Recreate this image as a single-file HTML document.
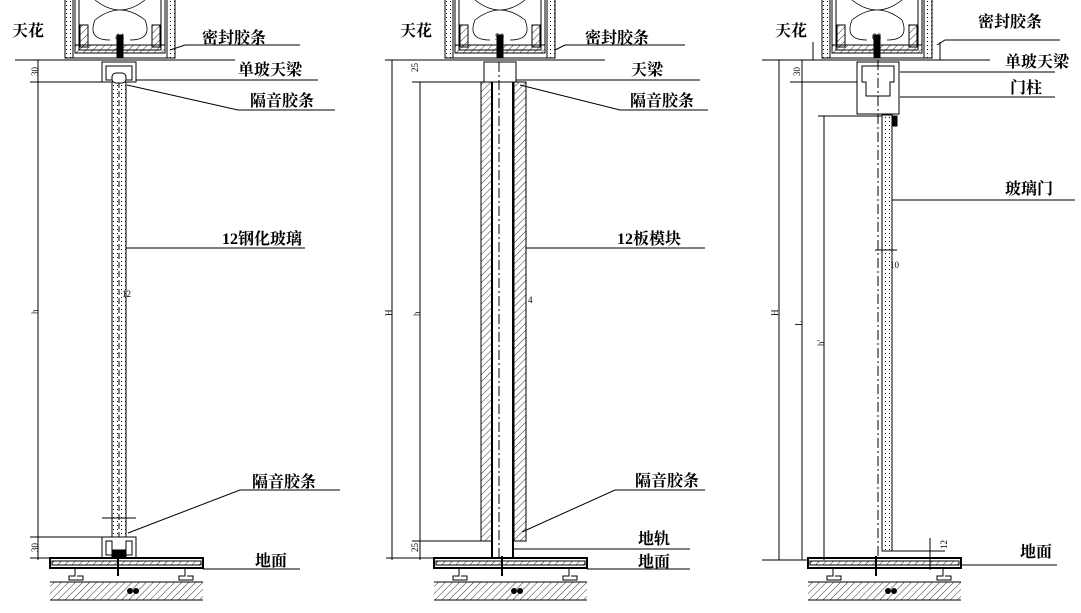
<!DOCTYPE html>
<html><head><meta charset="utf-8"><style>
html,body{margin:0;padding:0;background:#fff;}
svg{display:block;}
text{font-family:"Liberation Serif","Noto Serif CJK SC","Noto Sans CJK SC",serif;fill:#000;}
.l{font-size:16px;font-weight:bold;}
.s{font-size:9px;}
</style></head><body>
<svg width="1081" height="613" viewBox="0 0 1081 613" xmlns="http://www.w3.org/2000/svg">
<defs>
<pattern id="h" width="5" height="5" patternUnits="userSpaceOnUse" patternTransform="rotate(45)"><line x1="0" y1="0" x2="0" y2="5" stroke="#000" stroke-width="0.8"/></pattern>
<pattern id="d" width="4" height="4" patternUnits="userSpaceOnUse"><rect x="1" y="1" width="1" height="1" fill="#000"/></pattern>
<g id="wall">
 <rect x="0" y="-2" width="110" height="60" fill="#fff" stroke="#000"/>
 <rect x="0" y="-2" width="8" height="60" fill="url(#d)" stroke="#000"/>
 <rect x="102" y="-2" width="8" height="60" fill="url(#d)" stroke="#000"/>
 <rect x="10" y="-2" width="90" height="55" fill="none" stroke="#000"/>
 <rect x="14" y="-2" width="82" height="52" fill="none" stroke="#000"/>
 <rect x="15" y="25" width="8" height="22" fill="url(#h)" stroke="#000"/>
 <rect x="87" y="25" width="8" height="22" fill="url(#h)" stroke="#000"/>
 <rect x="10" y="45" width="90" height="8" fill="url(#h)" stroke="#000"/>
 <path d="M30 0 Q55 20 80 0 M30 20 Q55 0 80 20 M30 20 Q22 40 45 40 M80 20 Q88 40 65 40" fill="none" stroke="#000" stroke-width="0.8"/>
 <rect x="52" y="35" width="6" height="22" fill="#000"/>
</g>
<g id="floor">
 <rect x="0" y="0" width="153" height="10" fill="#fff" stroke="#000" stroke-width="2"/>
 <rect x="2" y="3" width="149" height="4" fill="url(#h)"/>
 <path d="M25 10 v8 h-6 v4 h14 v-4 h-6 M135 10 v8 h-6 v4 h14 v-4 h-6" fill="#fff" stroke="#000"/>
 <rect x="0" y="24" width="153" height="18" fill="url(#h)" stroke="none"/>
 <line x1="0" y1="24" x2="153" y2="24" stroke="#000"/><line x1="0" y1="42" x2="153" y2="42" stroke="#000"/>
 <circle cx="80" cy="33" r="2.5" fill="#000"/><circle cx="86" cy="33" r="2.5" fill="#000"/>
 <path d="M68 -2 v20" stroke="#000" stroke-width="2"/>
</g>
</defs>
<g stroke="#000" stroke-width="1" fill="none">
<!-- ===== Panel 1 ===== -->
<use href="#wall" x="65" y="0"/>
<line x1="15" y1="60" x2="235" y2="60"/>
<text class="l" x="12" y="36" stroke="none">天花</text>
<rect x="102" y="62" width="34" height="20" fill="#fff"/>
<rect x="106" y="66" width="26" height="14"/>
<rect x="112" y="82" width="14" height="456" fill="url(#d)"/>
<line x1="119" y1="82" x2="119" y2="538" stroke-dasharray="6,3"/>
<rect x="112" y="73" width="14" height="10" rx="4" fill="#fff"/>
<rect x="102" y="537" width="34" height="21" fill="#fff"/>
<rect x="106" y="541" width="6" height="14"/><rect x="126" y="541" width="6" height="14"/>
<rect x="112" y="550" width="14" height="8" fill="#000"/>
<use href="#floor" x="50" y="558"/>
<line x1="203" y1="569" x2="300" y2="569"/>
<line x1="38" y1="60" x2="38" y2="560"/>
<line x1="30" y1="82" x2="112" y2="82"/><line x1="30" y1="537" x2="102" y2="537"/>
<line x1="30" y1="60" x2="46" y2="60"/><line x1="30" y1="558" x2="50" y2="558"/>
<polyline points="170,50 185,45 300,45"/>
<line x1="136" y1="80" x2="318" y2="80"/>
<polyline points="127,85 238,110 335,110"/>
<line x1="126" y1="248" x2="305" y2="248"/>
<polyline points="128,533 240,490 340,490"/>
<line x1="102" y1="518" x2="136" y2="518"/>
<!-- ===== Panel 2 ===== -->
<use href="#wall" x="445" y="0"/>
<line x1="385" y1="60" x2="605" y2="60"/>
<text class="l" x="400" y="36" stroke="none">天花</text>
<rect x="484" y="62" width="32" height="20" fill="#fff"/>
<rect x="481" y="82" width="11" height="459" fill="url(#h)"/>
<rect x="514" y="82" width="12" height="459" fill="url(#h)"/>
<line x1="499" y1="62" x2="499" y2="560" stroke-dasharray="10,3,2,3"/>
<line x1="492" y1="82" x2="492" y2="558" stroke-width="2"/>
<line x1="513" y1="82" x2="513" y2="558" stroke-width="2"/>
<use href="#floor" x="434" y="558"/>
<line x1="392" y1="60" x2="392" y2="560"/>
<line x1="420" y1="82" x2="420" y2="560"/>
<line x1="386" y1="558" x2="434" y2="558"/>
<line x1="412" y1="82" x2="481" y2="82"/><line x1="412" y1="541" x2="481" y2="541"/>
<polyline points="555,50 565,45 685,45"/>
<line x1="516" y1="80" x2="700" y2="80"/>
<polyline points="520,85 620,110 708,110"/>
<line x1="526" y1="248" x2="705" y2="248"/>
<polyline points="522,532 615,490 705,490"/>
<line x1="514" y1="549" x2="690" y2="549"/>
<line x1="587" y1="569" x2="690" y2="569"/>
<!-- ===== Panel 3 ===== -->
<use href="#wall" x="822" y="0"/>
<line x1="762" y1="60" x2="990" y2="60"/>
<line x1="813" y1="42" x2="813" y2="60"/><line x1="940" y1="42" x2="940" y2="60"/>
<text class="l" x="775" y="36" stroke="none">天花</text>
<rect x="857" y="62" width="42" height="52" fill="#fff"/>
<path d="M862 66 h32 v16 h-4 v14 h-24 v-14 h-4z"/>
<rect x="882" y="115" width="10" height="436" fill="url(#d)"/>
<line x1="878" y1="60" x2="878" y2="558" stroke-dasharray="10,3,2,3"/>
<rect x="893" y="116" width="4" height="10" fill="#000"/>
<line x1="892" y1="551" x2="945" y2="551"/>
<use href="#floor" x="808" y="558"/>
<line x1="961" y1="565" x2="1057" y2="565"/>
<line x1="779" y1="60" x2="779" y2="560"/>
<line x1="802" y1="60" x2="802" y2="560"/>
<line x1="824" y1="116" x2="824" y2="560"/>
<line x1="790" y1="82" x2="857" y2="82"/>
<line x1="818" y1="116" x2="882" y2="116"/>
<line x1="762" y1="560" x2="808" y2="560"/>
<line x1="930" y1="538" x2="930" y2="570"/>
<polyline points="937,45 945,40 1060,40"/>
<line x1="900" y1="72" x2="1055" y2="72"/>
<line x1="900" y1="97" x2="1055" y2="97"/>
<line x1="892" y1="200" x2="1075" y2="200"/>
<line x1="875" y1="250" x2="897" y2="250"/>
</g>
<g stroke="none">
<text class="l" x="202" y="43">密封胶条</text>
<text class="l" x="238" y="75">单玻天梁</text>
<text class="l" x="250" y="106">隔音胶条</text>
<text class="l" x="222" y="244">12钢化玻璃</text>
<text class="l" x="252" y="487">隔音胶条</text>
<text class="l" x="255" y="566">地面</text>
<text class="s" x="30" y="76" transform="rotate(-90 34 72)">30</text>
<text class="s" x="30" y="552" transform="rotate(-90 34 548)">30</text>
<text class="s" x="30" y="314" transform="rotate(-90 34 310)">h</text>
<text class="s" x="115" y="40">44</text>
<text class="s" x="122" y="297">12</text>
<text class="l" x="585" y="43">密封胶条</text>
<text class="l" x="631" y="75">天梁</text>
<text class="l" x="630" y="106">隔音胶条</text>
<text class="l" x="617" y="244">12板模块</text>
<text class="l" x="635" y="486">隔音胶条</text>
<text class="l" x="638" y="544">地轨</text>
<text class="l" x="638" y="567">地面</text>
<text class="s" x="410" y="72" transform="rotate(-90 414 68)">25</text>
<text class="s" x="410" y="552" transform="rotate(-90 414 548)">25</text>
<text class="s" x="382" y="314" transform="rotate(-90 388 310)">H</text>
<text class="s" x="410" y="314" transform="rotate(-90 416 310)">h</text>
<text class="s" x="495" y="40">50</text>
<text class="s" x="528" y="303">4</text>
<text class="l" x="978" y="27">密封胶条</text>
<text class="l" x="1005" y="67">单玻天梁</text>
<text class="l" x="1010" y="93">门柱</text>
<text class="l" x="1005" y="194">玻璃门</text>
<text class="l" x="1020" y="557">地面</text>
<text class="s" x="792" y="76" transform="rotate(-90 796 72)">30</text>
<text class="s" x="768" y="314" transform="rotate(-90 774 310)">H</text>
<text class="s" x="792" y="324" transform="rotate(-90 798 320)">L</text>
<text class="s" x="814" y="344" transform="rotate(-90 820 340)">h'</text>
<text class="s" x="872" y="40">66</text>
<text class="s" x="890" y="268">10</text>
<text class="s" x="938" y="550" transform="rotate(-90 942 545)">12</text>
</g>
</svg>
</body></html>
